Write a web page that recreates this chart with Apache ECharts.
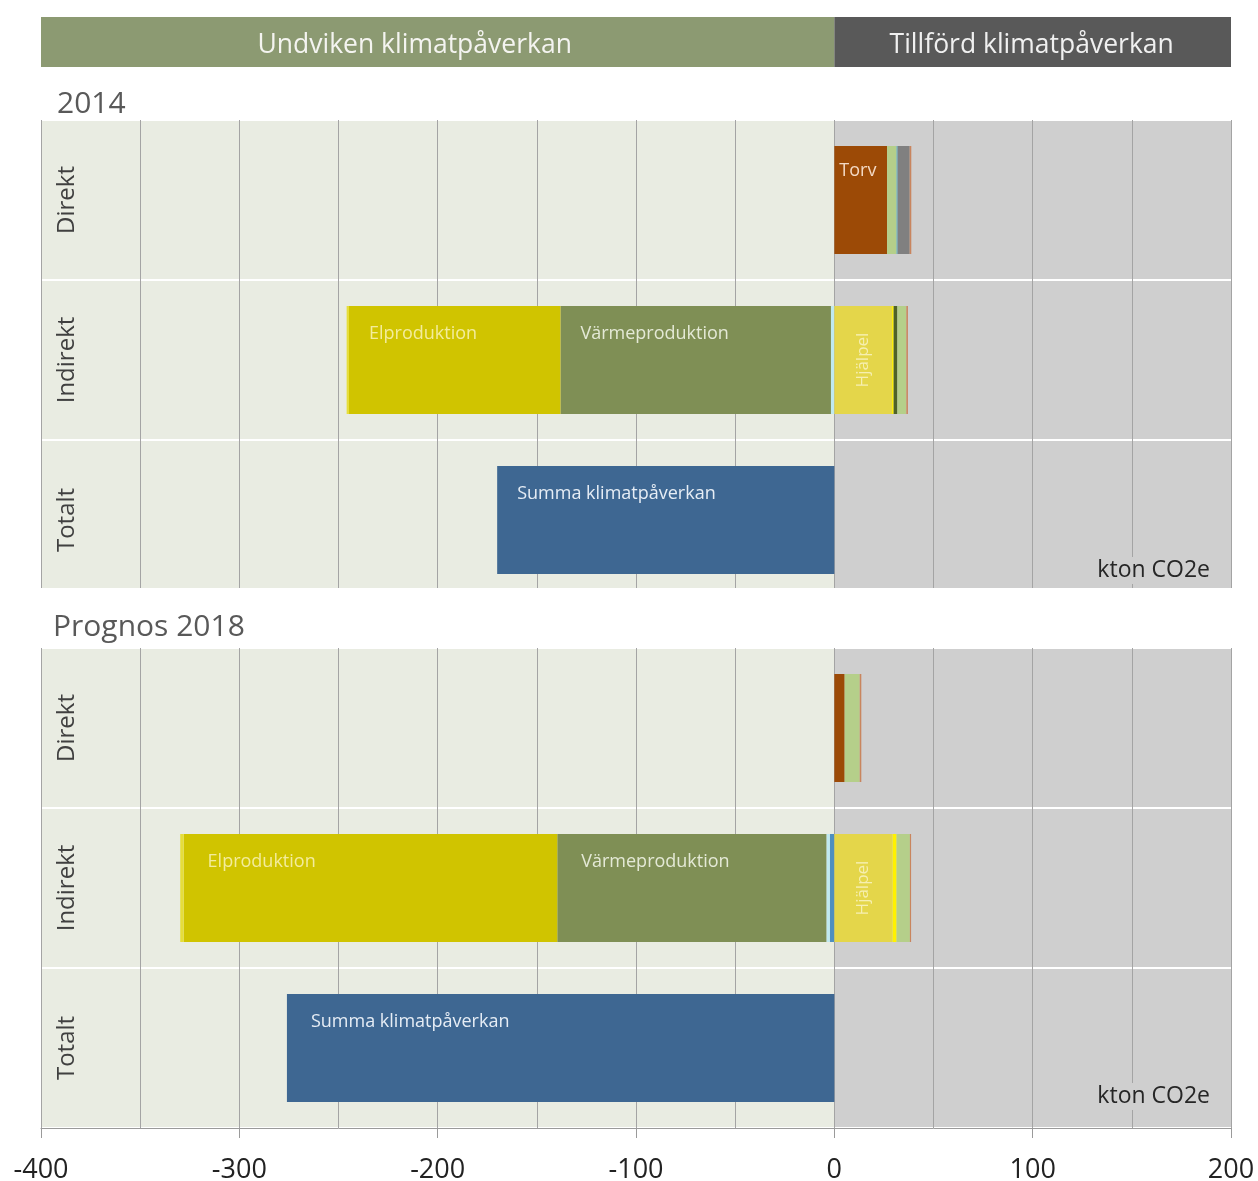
<!DOCTYPE html>
<html>
<head>
<meta charset="utf-8">
<title>Klimatpåverkan</title>
<script src="https://cdn.jsdelivr.net/npm/echarts@6/dist/echarts.min.js"></script>
</head>
<body style="margin:0;background:#fff;">
<div id="chart" style="width:1258px;height:1181px;"></div>
<script>
// kategorier (uppifrån och ned)
var categories = ['Direkt', 'Indirekt', 'Totalt'];
var xTicks = [-400, -300, -200, -100, 0, 100, 200];

// 2014, kton CO2e per kategori [Direkt, Indirekt, Totalt]
var bla14       = [null, null, null];
var ljusbla14   = [null, -1.7, null];
var varme14     = [null, -136.4, null];
var el14        = [null, -106.6, null];
var ljusgul14   = [null, -1.2, null];
var torv14      = [26.6, null, null];
var hjalpel14   = [null, 29.1, null];
var gul14       = [null, 0.8, null];
var morkgron14  = [null, 1.9, null];
var ljusgron14  = [4.8, 4.5, null];
var turkos14    = [0.5, null, null];
var gra14       = [6.1, null, null];
var ovrigt14    = [0.8, 0.8, null];
var summa14     = [null, null, -170];

// Prognos 2018
var bla18       = [null, -2.3, null];
var ljusbla18   = [null, -1.7, null];
var varme18     = [null, -135.7, null];
var el18        = [null, -188.4, null];
var ljusgul18   = [null, -1.7, null];
var torv18      = [5.2, null, null];
var hjalpel18   = [null, 29.4, null];
var gul18       = [null, 2.0, null];
var morkgron18  = [null, null, null];
var ljusgron18  = [7.6, 6.7, null];
var turkos18    = [null, null, null];
var gra18       = [null, null, null];
var ovrigt18    = [0.8, 0.6, null];
var summa18     = [null, null, -276];

// rubrikband
var headerNames = ['Undviken klimatpåverkan', 'Tillförd klimatpåverkan'];
var headerValues = [-400, 200];

var FONT = '"Open Sans", "Noto Sans", sans-serif';

// serier i staplingsordning (närmast noll först)
var segNames  = ['Blå', 'Ljusblå', 'Värmeproduktion', 'Elproduktion', 'Ljusgul',
                 'Torv', 'Hjälpel', 'Gul', 'Mörkgrön', 'Ljusgrön', 'Turkos', 'Grå', 'Övrigt',
                 'Summa klimatpåverkan'];
var segColors = ['#4F8FBF', '#BFE9F0', '#7F8F55', '#D0C400', '#E6DE3A',
                 '#9C4A06', '#E4D64A', '#FFF200', '#4F6228', '#B5CF8A', '#4BACC6', '#808080', '#C9855E',
                 '#3E6792'];
var labelColors = {
	'Värmeproduktion': '#E4E9D6',
	'Elproduktion': '#F3EC9C',
	'Torv': '#F3D9C4',
	'Summa klimatpåverkan': '#E6EDF5'
};

function panelSeries(idx, data, torvLabel) {
	var list = [];
	for (var i = 0; i < segNames.length; i++) {
		var name = segNames[i];
		var label = { show: false };
		if (labelColors[name] && (name !== 'Torv' || torvLabel)) {
			label = {
				show: true,
				position: 'insideTopLeft',
				distance: 16,
				offset: [idx === 1 ? 8 : 4, 3],
				formatter: name,
				color: labelColors[name],
				fontSize: 18,
				fontFamily: FONT
			};
			if (name === 'Torv') {
				label.distance = 5;
				label.offset = [0, 11];
				label.overflow = 'none';
			}
		}
		if (name === 'Hjälpel') {
			label = {
				show: true,
				position: 'inside',
				rotate: 90,
				formatter: name,
				color: '#F6EFB0',
				fontSize: 17,
				fontFamily: FONT
			};
		}
		var s = {
			name: name,
			type: 'bar',
			stack: 'p' + idx,
			xAxisIndex: idx,
			yAxisIndex: idx,
			barWidth: '67.5%',
			z: 3,
			itemStyle: { color: segColors[i] },
			label: label,
			data: data[i]
		};
		if (name === 'Summa klimatpåverkan') {
			s.markArea = {
				silent: true,
				z: 0,
				label: { show: false },
				data: [
					[{ xAxis: -400, itemStyle: { color: '#E9ECE2' } }, { xAxis: 0 }],
					[{ xAxis: 0, itemStyle: { color: '#CFCFCF' } }, { xAxis: 200 }]
				]
			};
		}
		list.push(s);
	}
	return list;
}

function valueAxis(idx, showLabels) {
	return {
		type: 'value',
		gridIndex: idx,
		min: -400,
		max: 200,
		interval: 100,
		z: 1,
		axisLine: { show: showLabels, lineStyle: { color: '#9A9A9A' } },
		axisTick: { show: showLabels, length: 10, lineStyle: { color: '#9A9A9A' } },
		axisLabel: {
			show: showLabels,
			margin: 29,
			fontSize: 27,
			color: '#222',
			fontFamily: FONT,
			customValues: xTicks
		},
		splitLine: { show: true, lineStyle: { color: '#A4A4A4', width: 1 } },
		minorTick: { show: false, splitNumber: 2 },
		minorSplitLine: { show: true, lineStyle: { color: '#A4A4A4', width: 1 } }
	};
}

function catAxis(idx) {
	return {
		type: 'category',
		gridIndex: idx,
		data: categories,
		inverse: true,
		z: 1,
		axisLine: { show: false },
		axisTick: { show: false },
		axisLabel: {
			inside: true,
			rotate: 90,
			margin: 26,
			align: 'center',
			verticalAlign: 'middle',
			fontSize: 24,
			color: '#404040',
			fontFamily: FONT
		},
		splitLine: { show: true, lineStyle: { color: '#FFFFFF', width: 2 } }
	};
}

var data14 = [bla14, ljusbla14, varme14, el14, ljusgul14, torv14, hjalpel14, gul14,
              morkgron14, ljusgron14, turkos14, gra14, ovrigt14, summa14];
var data18 = [bla18, ljusbla18, varme18, el18, ljusgul18, torv18, hjalpel18, gul18,
              morkgron18, ljusgron18, turkos18, gra18, ovrigt18, summa18];

var series = panelSeries(0, data14, true).concat(panelSeries(1, data18, false));

// rubrikband överst
series.push({
	name: headerNames[0], type: 'bar', stack: 'h', xAxisIndex: 2, yAxisIndex: 2,
	barWidth: '100%', itemStyle: { color: '#8C9A72' },
	label: { show: true, position: 'inside', offset: [-23, 3], formatter: headerNames[0],
		color: '#F4F4F0', fontSize: 26.5, fontFamily: FONT },
	data: [headerValues[0]]
});
series.push({
	name: headerNames[1], type: 'bar', stack: 'h', xAxisIndex: 2, yAxisIndex: 2,
	barWidth: '100%', itemStyle: { color: '#595959' },
	label: { show: true, position: 'inside', offset: [-1, 3], formatter: headerNames[1],
		color: '#F0F0F0', fontSize: 26.5, fontFamily: FONT },
	data: [headerValues[1]]
});

var myChart = echarts.init(document.getElementById('chart'));
var option = {
	animation: false,
	backgroundColor: '#FFFFFF',
	title: [
		{ text: '2014', left: 57, top: 89, padding: 0,
			textStyle: { fontSize: 30, fontWeight: 'normal', color: '#595959', fontFamily: FONT } },
		{ text: 'Prognos 2018', left: 53, top: 612, padding: 0,
			textStyle: { fontSize: 30, fontWeight: 'normal', color: '#595959', fontFamily: FONT } },
		{ text: 'kton CO2e', right: 44, top: 557, padding: [2, 4], backgroundColor: '#CFCFCF',
			textStyle: { fontSize: 23, fontWeight: 'normal', color: '#262626', fontFamily: FONT } },
		{ text: 'kton CO2e', right: 44, top: 1083, padding: [2, 4], backgroundColor: '#CFCFCF',
			textStyle: { fontSize: 23, fontWeight: 'normal', color: '#262626', fontFamily: FONT } }
	],
	grid: [
		{ left: 41, width: 1190, top: 120, height: 480, outerBoundsMode: 'none' },
		{ left: 41, width: 1190, top: 648, height: 480, outerBoundsMode: 'none' },
		{ left: 41, width: 1190, top: 17, height: 50, outerBoundsMode: 'none' }
	],
	xAxis: [
		valueAxis(0, false),
		valueAxis(1, true),
		{ type: 'value', gridIndex: 2, min: -400, max: 200, show: false, splitLine: { show: false } }
	],
	yAxis: [
		catAxis(0),
		catAxis(1),
		{ type: 'category', gridIndex: 2, data: [''], show: false }
	],
	// panel 2014 är avskuret nedtill i originalet
	graphic: [
		{ type: 'rect', left: 0, top: 588, z: 100, shape: { width: 1258, height: 16 }, style: { fill: '#FFFFFF' } }
	],
	series: series
};
myChart.setOption(option);
</script>
</body>
</html>
